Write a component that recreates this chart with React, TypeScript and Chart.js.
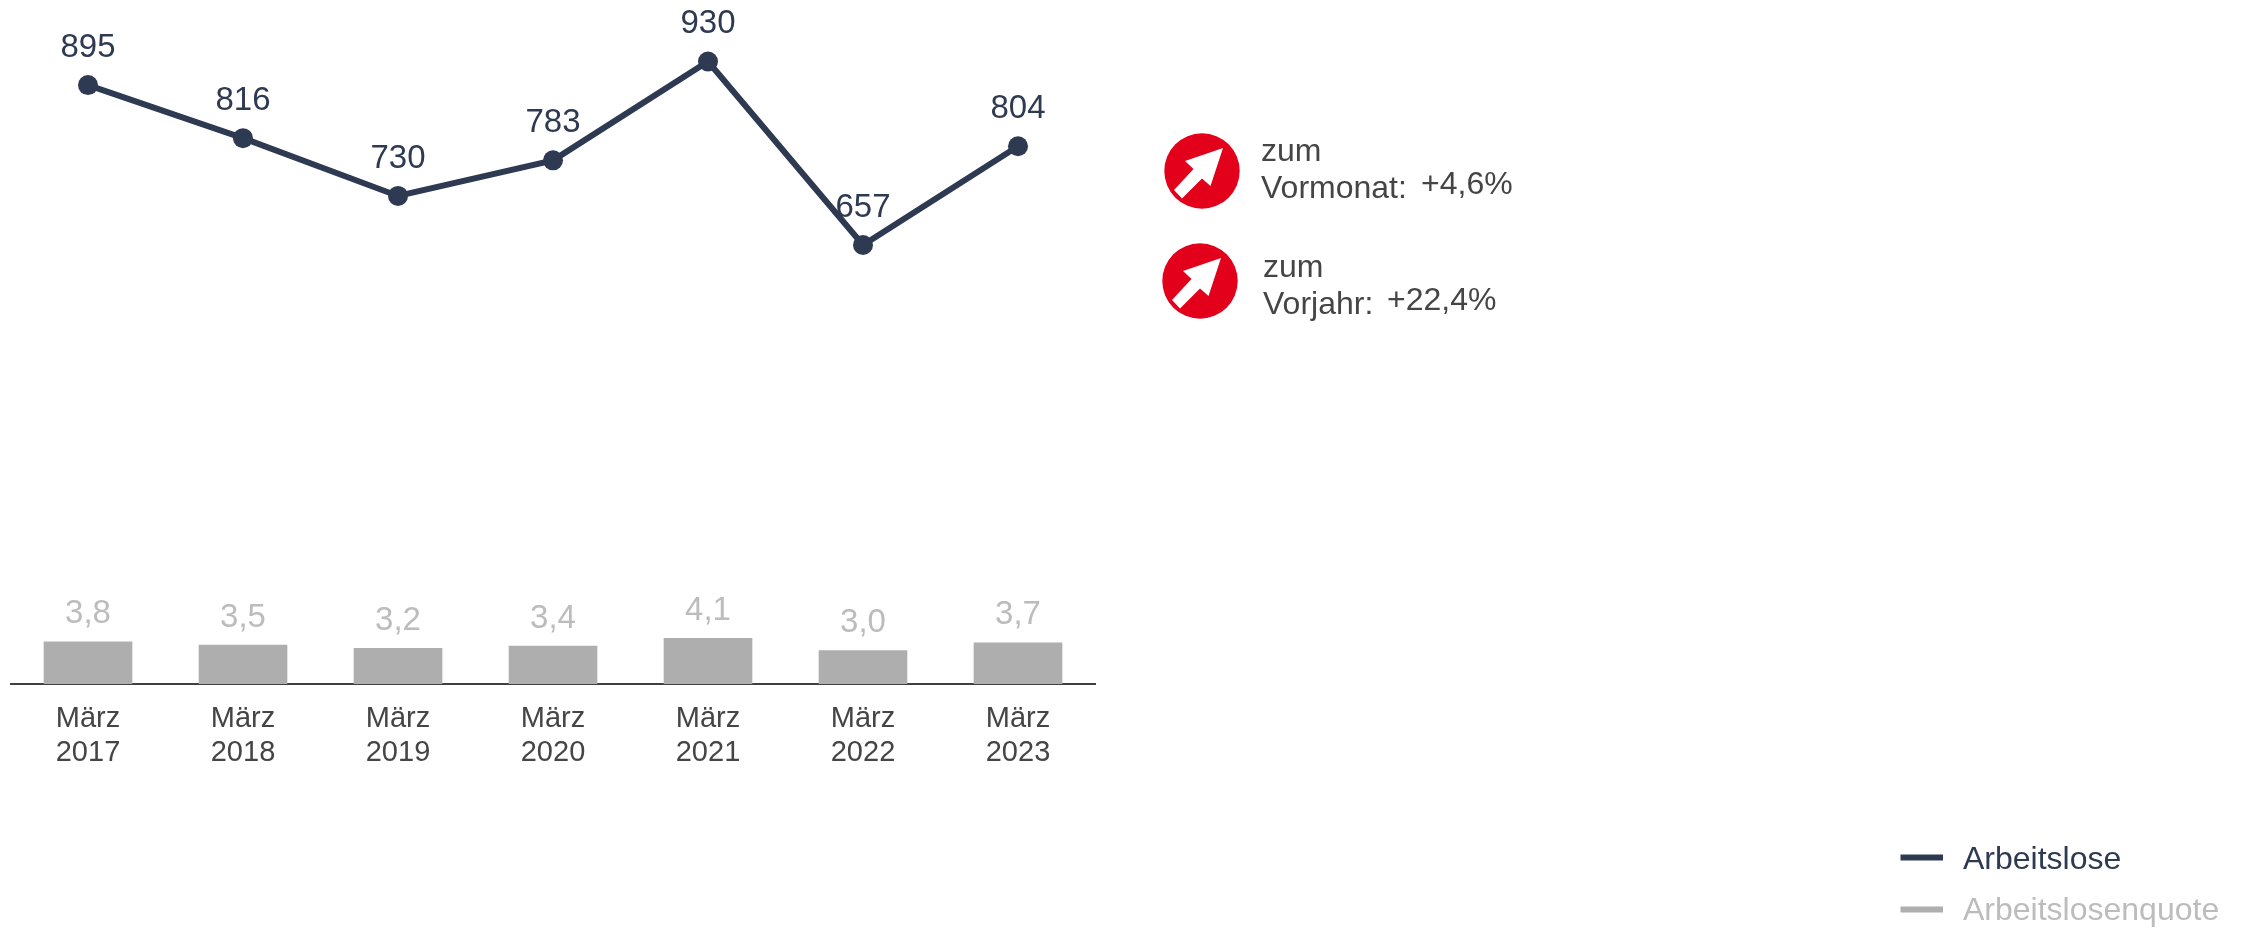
import React, { useEffect, useRef } from "react";
import { Chart, registerables } from "chart.js";

Chart.register(...registerables);

const months = ["März", "März", "März", "März", "März", "März", "März"];
const years = ["2017", "2018", "2019", "2020", "2021", "2022", "2023"];
const arbeitslose = [895, 816, 730, 783, 930, 657, 804];
const quote = [3.8, 3.5, 3.2, 3.4, 4.1, 3.0, 3.7];
const callouts = [
  { top: "zum", bottom: "Vormonat:", value: "+4,6%", cx: 1201.7, cy: 171, tx: 1261, ty1: 149.5, ty2: 187, vx: 1421, vy: 182.5 },
  { top: "zum", bottom: "Vorjahr:", value: "+22,4%", cx: 1199.7, cy: 281, tx: 1263, ty1: 265.5, ty2: 303, vx: 1387, vy: 298.5 },
];

const FONT = '"Liberation Sans", Arial, sans-serif';
const DARK = "#2e3a52";
const GRAY = "#aeaeae";
const GRAY_TEXT = "#bcbcbc";
const TEXT = "#454545";

const valueLabels = {
  id: "valueLabels",
  afterDatasetsDraw(chart: any) {
    const { ctx } = chart;
    ctx.save();
    ctx.textAlign = "center";
    ctx.textBaseline = "middle";
    ctx.font = `33px ${FONT}`;
    ctx.fillStyle = GRAY_TEXT;
    chart.getDatasetMeta(0).data.forEach((el: any, i: number) => {
      ctx.fillText(quote[i].toFixed(1).replace(".", ","), el.x, el.y - 27.5);
    });
    ctx.fillStyle = DARK;
    chart.getDatasetMeta(1).data.forEach((el: any, i: number) => {
      ctx.fillText(String(arbeitslose[i]), el.x, el.y - 37.5);
    });
    ctx.restore();
  },
};

const legendPlugin = {
  id: "cornerLegend",
  afterDraw(chart: any) {
    const { ctx } = chart;
    const rows = [
      { i: 1, y: 857.5 },
      { i: 0, y: 909.5 },
    ];
    ctx.save();
    ctx.font = `32px ${FONT}`;
    ctx.textAlign = "left";
    ctx.textBaseline = "middle";
    rows.forEach(({ i, y }) => {
      const ds = chart.data.datasets[i];
      ctx.fillStyle = i === 1 ? DARK : GRAY;
      ctx.fillRect(1900.5, y - 3, 42.5, 6);
      ctx.fillStyle = i === 1 ? DARK : GRAY_TEXT;
      ctx.fillText(ds.label, 1963, i === 1 ? y + 3 : y + 2);
    });
    ctx.restore();
  },
};

function Label({ x, y, text }: { x: number; y: number; text: string }) {
  return (
    <div
      style={{
        position: "absolute",
        left: x,
        top: y - 20,
        height: 40,
        font: `32px/40px ${FONT}`,
        color: TEXT,
        whiteSpace: "nowrap",
      }}
    >
      {text}
    </div>
  );
}

export default function App() {
  const ref = useRef<HTMLCanvasElement>(null);

  useEffect(() => {
    const chart = new Chart(ref.current!, {
      type: "bar",
      data: {
        labels: months.map((m, i) => [m, years[i]]),
        datasets: [
          {
            type: "bar",
            label: "Arbeitslosenquote",
            data: quote,
            backgroundColor: GRAY,
            barThickness: 88,
            yAxisID: "y1",
            order: 2,
          },
          {
            type: "line",
            label: "Arbeitslose",
            data: arbeitslose,
            borderColor: DARK,
            backgroundColor: DARK,
            borderWidth: 6,
            pointRadius: 10,
            pointBorderWidth: 0,
            pointBackgroundColor: DARK,
            tension: 0,
            yAxisID: "y",
            order: 1,
          },
        ],
      } as any,
      options: {
        animation: false,
        responsive: false,
        layout: { padding: { left: 10.5, right: 1148.5, top: 0, bottom: 0 } },
        plugins: { legend: { display: false }, tooltip: { enabled: false } },
        scales: {
          x: {
            offset: true,
            grid: { display: false, drawTicks: false },
            border: { color: "#404040", width: 2 },
            ticks: {
              color: TEXT,
              padding: 18,
              maxRotation: 0,
              autoSkip: false,
              font: { family: FONT, size: 29, lineHeight: 1.18 },
            },
            afterFit(scale: any) {
              scale.height = 244;
            },
          },
          y: { display: false, min: 3.7, max: 1006.7 },
          y1: { display: false, min: 0, max: 60.6 },
        },
      } as any,
      plugins: [valueLabels, legendPlugin],
    });
    return () => chart.destroy();
  }, []);

  return (
    <div style={{ position: "absolute", left: 0, top: 0, width: 2244, height: 928, overflow: "hidden", background: "#fff" }}>
      <canvas ref={ref} width={2244} height={928} style={{ display: "block" }} />
      {callouts.map((c) => (
        <React.Fragment key={c.bottom}>
          <svg
            width={76}
            height={76}
            viewBox="-38 -38 76 76"
            style={{ position: "absolute", left: c.cx - 38, top: c.cy - 38 }}
          >
            <circle r={37.7} fill="#e2001a" />
            <polygon fill="#fff" points="21,-23 -17,-10 -8.5,-2 -28,19 -20,27.5 0,7.5 8.5,15" />
          </svg>
          <Label x={c.tx} y={c.ty1} text={c.top} />
          <Label x={c.tx} y={c.ty2} text={c.bottom} />
          <Label x={c.vx} y={c.vy} text={c.value} />
        </React.Fragment>
      ))}
    </div>
  );
}
